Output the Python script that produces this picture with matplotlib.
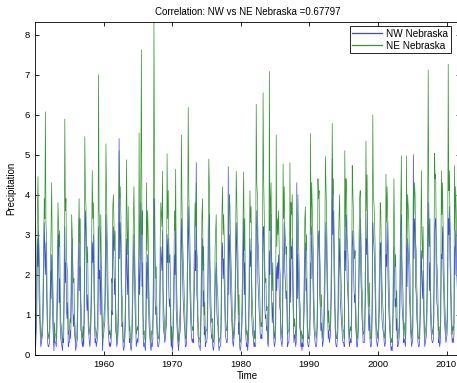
import matplotlib

matplotlib.use("Agg")
import matplotlib.pyplot as plt
import numpy as np

# monthly precipitation, one row per year (Jan..Dec), starting Jan 1950
nw_rows = [
    [0.3, 0.2, 0.6, 1.1, 2.9, 2.2, 3.1, 1.4, 0.9, 0.5, 0.2, 0.3],  # 1950
    [0.4, 0.5, 0.9, 1.8, 3.3, 2.6, 2.0, 2.8, 1.6, 1.0, 0.3, 0.2],
    [0.2, 0.3, 0.7, 2.1, 1.4, 2.5, 1.7, 0.8, 0.4, 0.1, 0.5, 0.3],
    [0.3, 0.2, 0.5, 1.2, 2.7, 3.0, 1.3, 1.9, 0.7, 0.4, 0.3, 0.2],
    [0.1, 0.4, 0.3, 1.5, 3.2, 1.8, 2.3, 1.1, 0.9, 1.3, 0.2, 0.3],
    [0.3, 0.6, 0.4, 0.9, 2.4, 2.9, 1.2, 0.7, 1.0, 0.5, 0.4, 0.1],
    [0.2, 0.3, 0.4, 1.3, 2.0, 3.4, 1.6, 2.2, 0.6, 0.6, 0.3, 0.2],
    [0.4, 0.2, 0.8, 2.6, 3.6, 3.1, 1.4, 1.1, 1.5, 0.7, 0.5, 0.3],
    [0.2, 0.5, 0.9, 1.7, 2.8, 2.3, 3.0, 1.6, 0.8, 0.3, 0.4, 0.2],
    [0.3, 0.4, 0.6, 3.2, 1.9, 2.1, 1.0, 2.4, 1.2, 0.9, 0.1, 0.4],
    [0.5, 0.7, 0.8, 1.6, 3.5, 2.7, 1.7, 1.3, 0.6, 0.4, 0.2, 0.3],  # 1960
    [0.2, 0.3, 1.1, 1.0, 2.6, 3.2, 2.2, 1.5, 1.9, 0.6, 0.5, 0.2],
    [0.3, 0.5, 0.9, 5.4, 2.4, 3.3, 2.8, 1.2, 0.7, 0.8, 0.2, 0.1],
    [0.2, 0.4, 0.7, 1.9, 2.9, 2.0, 1.5, 2.6, 1.0, 0.3, 0.4, 0.2],
    [0.1, 0.2, 0.6, 1.4, 2.2, 3.0, 1.8, 1.1, 0.8, 0.2, 0.3, 0.4],
    [0.3, 0.6, 2.4, 1.5, 2.1, 3.8, 3.4, 1.7, 2.3, 0.5, 0.2, 0.3],
    [0.2, 0.1, 0.5, 2.3, 1.4, 2.5, 2.0, 0.9, 0.6, 0.4, 0.2, 0.1],
    [0.3, 0.2, 0.4, 1.2, 3.9, 3.6, 1.4, 1.0, 1.2, 0.7, 0.3, 0.2],
    [0.2, 0.3, 0.5, 1.8, 2.7, 2.4, 2.1, 3.1, 0.9, 0.6, 0.5, 0.3],
    [0.4, 0.6, 0.8, 3.0, 2.3, 2.9, 1.6, 1.2, 1.4, 1.0, 0.2, 0.4],
    [0.1, 0.2, 0.7, 1.3, 2.5, 2.0, 3.3, 1.1, 0.8, 0.5, 0.3, 0.1],  # 1970
    [0.3, 0.5, 0.6, 1.7, 3.4, 2.7, 1.9, 1.4, 1.1, 0.8, 0.6, 0.2],
    [0.2, 0.3, 0.9, 2.1, 3.7, 2.8, 2.2, 1.7, 1.0, 0.6, 0.4, 0.3],
    [0.4, 0.3, 1.2, 1.9, 2.6, 2.1, 4.8, 1.5, 1.3, 0.5, 0.4, 0.2],
    [0.2, 0.1, 0.5, 1.4, 2.4, 2.9, 1.2, 1.6, 0.5, 0.7, 0.2, 0.3],
    [0.3, 0.4, 0.8, 2.2, 3.1, 3.5, 1.3, 0.9, 0.6, 0.4, 0.5, 0.2],
    [0.1, 0.2, 0.6, 1.6, 2.0, 2.3, 1.1, 0.8, 0.7, 0.3, 0.1, 0.2],
    [0.2, 0.3, 1.0, 2.5, 2.8, 1.9, 2.4, 1.8, 1.2, 0.5, 0.4, 0.3],
    [0.3, 0.5, 4.7, 1.5, 3.0, 2.6, 1.7, 1.3, 0.9, 0.6, 0.3, 0.2],
    [0.4, 0.6, 0.9, 1.8, 3.3, 2.7, 2.0, 1.4, 0.5, 0.8, 0.2, 0.1],
    [0.2, 0.4, 0.7, 1.2, 2.4, 3.4, 1.5, 2.3, 0.8, 0.4, 0.2, 0.3],  # 1980
    [0.1, 0.3, 0.6, 1.6, 2.9, 2.2, 2.6, 1.0, 0.7, 0.5, 0.4, 0.2],
    [0.3, 0.2, 1.1, 2.7, 3.6, 3.0, 1.8, 1.5, 1.1, 0.9, 0.5, 0.4],
    [0.5, 0.4, 1.3, 3.1, 3.2, 2.4, 1.2, 0.9, 1.0, 0.6, 0.7, 0.3],
    [0.2, 0.6, 2.6, 2.0, 2.8, 3.5, 1.4, 0.8, 1.3, 0.7, 0.3, 0.2],
    [0.3, 0.5, 2.2, 1.6, 2.3, 1.9, 2.5, 1.7, 1.2, 1.1, 0.4, 0.3],
    [0.2, 0.4, 1.9, 2.3, 3.3, 2.1, 1.8, 1.4, 1.6, 0.8, 0.2, 0.3],
    [0.3, 0.6, 2.4, 1.3, 2.7, 2.4, 2.9, 1.5, 0.9, 0.3, 0.5, 0.4],
    [0.2, 0.3, 4.3, 1.4, 2.5, 1.8, 1.3, 0.7, 0.6, 0.2, 0.3, 0.1],
    [0.3, 0.2, 0.7, 1.1, 2.4, 2.8, 1.6, 1.9, 0.8, 0.3, 0.2, 0.2],
    [0.4, 0.5, 2.3, 1.9, 3.2, 2.6, 2.1, 1.4, 0.7, 0.5, 0.3, 0.2],  # 1990
    [0.2, 0.3, 0.8, 2.4, 2.9, 3.1, 1.5, 1.2, 0.6, 0.8, 0.5, 0.2],
    [0.3, 0.4, 0.9, 1.5, 2.6, 3.3, 2.5, 1.6, 1.0, 0.4, 0.6, 0.3],
    [0.4, 0.5, 1.1, 1.8, 4.9, 3.0, 3.6, 2.2, 1.4, 0.7, 0.3, 0.2],
    [0.2, 0.4, 0.6, 1.7, 2.3, 2.9, 1.4, 1.1, 0.9, 0.6, 0.4, 0.3],
    [0.3, 0.2, 2.6, 2.1, 3.5, 3.2, 1.9, 1.6, 1.3, 0.5, 0.2, 0.3],
    [0.4, 0.3, 0.8, 2.7, 3.1, 2.5, 1.7, 1.3, 1.5, 0.7, 0.5, 0.2],
    [0.2, 0.4, 0.7, 1.9, 2.8, 3.4, 2.0, 1.5, 0.9, 0.8, 0.3, 0.3],
    [0.3, 0.5, 1.4, 2.9, 2.5, 3.6, 1.8, 1.2, 0.6, 1.0, 0.4, 0.2],
    [0.2, 0.3, 1.0, 3.3, 2.9, 2.7, 2.3, 1.6, 0.8, 0.4, 0.3, 0.2],
    [0.3, 0.4, 0.9, 1.4, 2.6, 2.8, 1.5, 0.9, 0.7, 0.6, 0.5, 0.3],  # 2000
    [0.2, 0.3, 2.5, 2.2, 3.3, 2.4, 1.6, 1.1, 0.8, 0.5, 0.3, 0.1],
    [0.2, 0.1, 0.5, 1.3, 2.7, 1.9, 1.2, 1.4, 0.6, 0.9, 0.2, 0.2],
    [0.3, 0.4, 0.8, 1.6, 3.2, 3.5, 1.3, 1.0, 0.8, 0.3, 0.4, 0.3],
    [0.2, 0.6, 2.8, 1.7, 2.9, 2.6, 2.2, 1.4, 1.2, 0.6, 0.4, 0.2],
    [0.3, 0.4, 5.0, 2.4, 3.4, 3.1, 1.7, 1.5, 0.9, 0.7, 0.3, 0.2],
    [0.2, 0.3, 0.9, 1.8, 2.6, 1.9, 1.4, 2.1, 1.1, 0.5, 0.2, 0.3],
    [0.4, 0.5, 1.1, 2.6, 3.8, 2.7, 1.6, 2.3, 1.0, 0.6, 0.4, 0.3],
    [0.3, 0.4, 1.0, 3.0, 3.3, 3.4, 2.0, 1.3, 1.2, 0.8, 0.3, 0.4],
    [0.2, 0.3, 0.9, 2.5, 2.4, 3.2, 2.1, 1.7, 1.0, 0.7, 0.5, 0.3],
    [0.4, 0.5, 1.2, 3.4, 3.0, 3.7, 2.4, 1.8, 0.9, 0.6, 0.3, 0.4],  # 2010
    [0.3, 0.5, 2.7, 2.0, 3.1, 2.6, 2.0, 1.6, 1.0, 0.6, 0.4, 0.3],
]

ne_rows = [
    [0.6, 0.5, 1.2, 2.4, 3.5, 4.45, 3.1, 2.6, 1.8, 0.9, 0.5, 0.4],  # 1950
    [0.7, 0.9, 1.8, 2.6, 3.9, 3.4, 6.07, 3.3, 2.9, 1.6, 0.6, 0.5],
    [0.4, 0.6, 1.1, 2.2, 3.1, 4.3, 2.5, 1.9, 1.2, 0.3, 0.8, 0.5],
    [0.5, 0.4, 1.3, 2.0, 3.8, 3.3, 2.7, 3.1, 1.5, 0.8, 0.7, 0.4],
    [0.3, 0.8, 0.9, 2.5, 5.89, 3.6, 3.9, 2.4, 2.2, 2.0, 0.5, 0.6],
    [0.6, 0.9, 0.8, 1.7, 3.5, 3.0, 2.3, 1.8, 1.9, 0.9, 0.7, 0.3],
    [0.4, 0.5, 1.0, 2.1, 2.9, 3.9, 2.8, 3.4, 1.4, 1.1, 0.5, 0.4],
    [0.7, 0.4, 1.6, 5.45, 4.1, 3.7, 2.6, 2.3, 2.7, 1.2, 0.8, 0.6],
    [0.5, 0.8, 1.5, 2.8, 4.6, 3.4, 3.8, 2.9, 1.6, 0.7, 0.6, 0.4],
    [0.6, 0.7, 1.4, 7.0, 3.6, 3.2, 2.4, 3.5, 2.1, 1.5, 0.3, 0.7],
    [0.8, 1.1, 1.3, 2.6, 5.27, 4.0, 3.0, 2.5, 1.3, 0.8, 0.5, 0.6],  # 1960
    [0.4, 0.6, 1.9, 1.8, 3.7, 4.0, 3.3, 2.6, 3.1, 1.2, 0.9, 0.4],
    [0.5, 0.9, 1.7, 5.1, 3.9, 4.2, 3.6, 2.2, 1.5, 1.4, 0.4, 0.3],
    [0.4, 0.7, 1.3, 2.9, 4.87, 3.1, 2.5, 3.7, 1.8, 0.6, 0.7, 0.4],
    [0.3, 0.5, 1.2, 2.3, 3.4, 4.2, 2.9, 2.0, 1.6, 0.5, 0.6, 0.7],
    [0.6, 0.9, 5.54, 2.4, 3.3, 4.4, 7.62, 3.0, 3.6, 1.0, 0.5, 0.6],
    [0.4, 0.3, 1.0, 4.3, 2.6, 3.6, 3.0, 1.7, 1.2, 0.8, 0.4, 0.3],
    [0.6, 0.5, 0.9, 2.1, 8.32, 4.6, 2.6, 1.9, 2.2, 1.3, 0.6, 0.4],
    [0.4, 0.6, 1.1, 2.9, 3.8, 3.5, 3.2, 4.58, 1.7, 1.2, 0.9, 0.5],
    [0.7, 1.0, 1.5, 5.02, 3.4, 4.1, 2.8, 2.3, 2.5, 1.8, 0.4, 0.7],
    [0.3, 0.5, 1.3, 2.2, 3.6, 3.1, 4.64, 2.1, 1.6, 1.0, 0.6, 0.3],  # 1970
    [0.6, 0.9, 1.2, 2.7, 5.49, 3.9, 3.0, 2.5, 2.0, 1.5, 1.1, 0.4],
    [0.4, 0.6, 1.7, 3.2, 6.18, 4.0, 3.4, 2.8, 1.9, 1.2, 0.8, 0.6],
    [0.7, 0.6, 2.0, 3.0, 3.8, 3.2, 4.3, 2.6, 2.4, 1.0, 0.7, 0.4],
    [0.4, 0.3, 1.0, 2.3, 3.5, 3.9, 2.1, 2.7, 1.0, 1.3, 0.4, 0.6],
    [0.6, 0.7, 1.5, 3.3, 4.89, 4.2, 2.4, 1.8, 1.2, 0.8, 0.9, 0.4],
    [0.3, 0.4, 1.2, 2.6, 3.1, 3.5, 2.0, 1.6, 1.4, 0.6, 0.3, 0.4],
    [0.4, 0.6, 1.8, 3.6, 4.2, 3.0, 3.5, 2.9, 2.1, 1.0, 0.8, 0.6],
    [0.6, 0.9, 2.1, 2.5, 4.0, 3.7, 2.8, 2.3, 1.7, 1.1, 0.6, 0.4],
    [0.7, 1.0, 1.6, 2.9, 4.58, 3.8, 3.1, 2.5, 1.0, 1.5, 0.4, 0.3],
    [0.4, 0.7, 1.3, 2.1, 3.5, 4.57, 2.6, 3.4, 1.6, 0.8, 0.5, 0.6],  # 1980
    [0.3, 0.6, 1.2, 2.7, 4.1, 3.3, 3.7, 1.9, 1.4, 1.0, 0.8, 0.4],
    [0.6, 0.4, 1.9, 6.26, 4.3, 4.0, 2.9, 2.6, 2.0, 1.7, 0.9, 0.7],
    [0.8, 0.7, 2.3, 6.55, 4.4, 3.5, 2.2, 1.8, 1.9, 1.1, 1.2, 0.6],
    [0.4, 1.0, 7.08, 3.1, 3.9, 4.3, 2.5, 1.6, 2.3, 1.3, 0.6, 0.4],
    [0.6, 0.9, 5.49, 2.7, 3.4, 3.0, 3.6, 2.8, 2.2, 2.0, 0.8, 0.6],
    [0.4, 0.8, 4.77, 3.4, 4.2, 3.2, 2.9, 2.5, 2.7, 1.5, 0.5, 0.6],
    [0.6, 1.1, 4.8, 2.3, 3.8, 3.5, 4.0, 2.6, 1.7, 0.7, 0.9, 0.7],
    [0.4, 0.6, 2.3, 2.4, 4.0, 2.9, 2.3, 1.4, 1.2, 0.5, 0.6, 0.3],
    [0.5, 0.4, 1.2, 2.0, 3.4, 3.7, 2.6, 3.0, 1.5, 0.7, 0.4, 0.4],
    [0.7, 0.9, 5.53, 3.0, 4.3, 3.7, 3.2, 2.5, 1.4, 1.0, 0.6, 0.5],  # 1990
    [0.4, 0.6, 1.4, 4.4, 3.9, 4.1, 2.6, 2.2, 1.2, 1.5, 0.9, 0.4],
    [0.6, 0.7, 1.6, 2.5, 4.95, 4.3, 3.6, 2.7, 1.9, 0.8, 1.1, 0.6],
    [0.7, 0.9, 1.9, 2.9, 5.78, 4.0, 4.4, 3.3, 2.5, 1.3, 0.6, 0.4],
    [0.4, 0.7, 1.1, 2.8, 3.5, 4.0, 2.5, 2.1, 1.7, 1.2, 0.8, 0.6],
    [0.6, 0.4, 5.1, 3.2, 4.4, 4.2, 3.0, 2.7, 2.3, 1.0, 0.4, 0.6],
    [0.7, 0.6, 1.5, 4.73, 4.1, 3.6, 2.8, 2.4, 2.6, 1.3, 0.9, 0.4],
    [0.4, 0.7, 1.3, 3.0, 3.9, 4.1, 3.1, 2.6, 1.7, 1.5, 0.6, 0.5],
    [0.6, 0.9, 2.4, 5.34, 3.6, 4.5, 2.9, 2.2, 1.2, 1.8, 0.8, 0.4],
    [0.4, 0.6, 1.8, 5.99, 4.0, 3.8, 3.4, 2.7, 1.6, 0.8, 0.6, 0.4],
    [0.6, 0.7, 1.6, 2.5, 3.8, 3.6, 2.6, 1.8, 1.4, 1.1, 0.9, 0.5],  # 2000
    [0.4, 0.6, 4.51, 3.3, 4.2, 3.5, 2.7, 2.0, 1.5, 0.9, 0.6, 0.3],
    [0.4, 0.3, 1.0, 2.4, 4.4, 3.0, 2.2, 2.5, 1.2, 1.6, 0.4, 0.4],
    [0.6, 0.7, 1.5, 2.7, 4.1, 4.97, 2.4, 1.9, 1.5, 0.6, 0.8, 0.5],
    [0.4, 1.0, 4.97, 2.8, 4.0, 3.7, 3.3, 2.5, 2.2, 1.1, 0.8, 0.4],
    [0.6, 0.7, 4.2, 3.5, 4.3, 4.0, 2.8, 2.6, 1.7, 1.3, 0.6, 0.4],
    [0.4, 0.6, 1.6, 2.9, 4.6, 3.0, 2.4, 3.2, 2.0, 0.9, 0.4, 0.6],
    [0.7, 0.9, 1.9, 3.7, 7.12, 3.8, 2.7, 3.4, 1.8, 1.1, 0.8, 0.5],
    [0.6, 0.7, 1.8, 5.03, 4.4, 4.5, 3.1, 2.3, 2.1, 1.5, 0.6, 0.7],
    [0.4, 0.6, 1.7, 4.6, 3.5, 4.3, 3.2, 2.8, 1.8, 1.3, 0.9, 0.5],
    [0.7, 0.9, 2.1, 7.26, 4.1, 4.6, 3.5, 2.9, 1.6, 1.1, 0.5, 0.7],  # 2010
    [0.6, 0.8, 4.73, 3.1, 4.2, 3.6, 2.8, 2.4, 1.5, 1.0, 0.7, 0.5],
]

start_year = 1950
series_labels = ["NW Nebraska", "NE Nebraska"]
title_text = "Correlation: NW vs NE Nebraska =0.67797"

nw = np.concatenate([np.array(r) for r in nw_rows])
ne = np.concatenate([np.array(r) for r in ne_rows])
t = start_year + np.arange(len(nw)) / 12.0

plt.rcParams["font.family"] = ["Liberation Sans", "DejaVu Sans"]
plt.rcParams["font.size"] = 7

fig = plt.figure(figsize=(4.57, 3.83), dpi=100)
# right spine sits just past the image edge, as in the reference crop
ax = fig.add_axes([0.0768, 0.074, 0.929, 0.869])

ax.plot(t, nw, color=(0.25, 0.25, 1.0), lw=0.5, label=series_labels[0])
ax.plot(t, ne, color=(0.2, 0.58, 0.2), lw=0.5, label=series_labels[1])

ax.set_xlim(t[0], t[-1])
ax.set_ylim(0, ne.max())
ax.set_xticks(np.arange(1960, 2011, 10))
ax.set_yticks(np.arange(0, 9, 1))
ax.tick_params(direction="in", top=True, right=True, length=3, width=0.6, labelsize=6.8)
for s in ax.spines.values():
    s.set_linewidth(0.6)

ax.set_title(title_text, fontsize=7, pad=5)
ax.set_xlabel("Time", fontsize=7, labelpad=2)
ax.set_ylabel("Precipitation", fontsize=7, labelpad=6)

leg = ax.legend(loc="upper right", fontsize=7.2, fancybox=False, framealpha=1,
                edgecolor="black", handlelength=3.0, handletextpad=0.4,
                borderaxespad=0.45, borderpad=0.25, labelspacing=0.2,
                bbox_to_anchor=(0.99, 1.0))
leg.get_frame().set_linewidth(0.6)
for line in leg.get_lines():
    line.set_linewidth(0.9)

fig.savefig("out.png", dpi=100)
